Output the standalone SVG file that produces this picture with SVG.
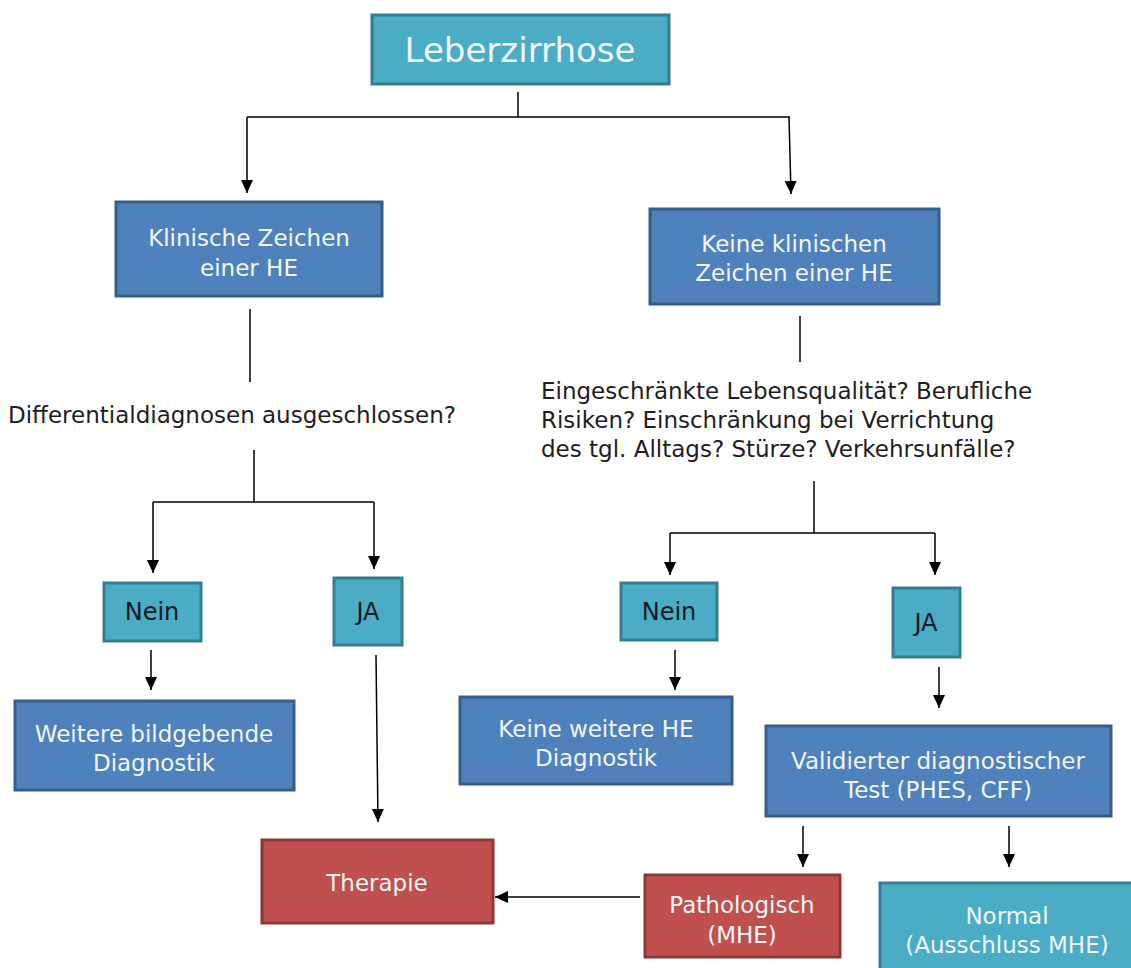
<svg xmlns="http://www.w3.org/2000/svg" width="1131" height="968" viewBox="0 0 1131 968">
<defs>
<style>
.teal{fill:#4bacc6;stroke:#357d91;stroke-width:3}
.blue{fill:#4f81bd;stroke:#385d8a;stroke-width:3}
.red{fill:#c0504d;stroke:#8c3836;stroke-width:3}
.lt{fill:#f2f6fa;font-family:"DejaVu Sans",sans-serif;font-size:23px;text-anchor:middle}
.dk{fill:#141a24;font-family:"DejaVu Sans",sans-serif;font-size:24px;text-anchor:middle}
.q{fill:#1e1e1e;font-family:"DejaVu Sans",sans-serif;font-size:23px}
.c{fill:none;stroke:#000;stroke-width:1.5}
</style>
<marker id="ah" markerUnits="userSpaceOnUse" markerWidth="14" markerHeight="14" viewBox="0 0 14 14" refX="13" refY="7" orient="auto">
<path d="M0,1 L13,7 L0,13 Z" fill="#000"/>
</marker>
</defs>
<rect width="1131" height="968" fill="#ffffff"/>

<g id="connectors">
<path class="c" d="M518,92 V117"/>
<path class="c" d="M247,117 H790"/>
<path class="c" d="M247,117 V193" marker-end="url(#ah)"/>
<path class="c" d="M789,117 L791,194" marker-end="url(#ah)"/>
<path class="c" d="M250,309 V382"/>
<path class="c" d="M254,450 V502"/>
<path class="c" d="M153,502 H374"/>
<path class="c" d="M153,502 V573" marker-end="url(#ah)"/>
<path class="c" d="M374,502 V569" marker-end="url(#ah)"/>
<path class="c" d="M151,650 V690" marker-end="url(#ah)"/>
<path class="c" d="M376,655 L378,822" marker-end="url(#ah)"/>
<path class="c" d="M800,316 V362"/>
<path class="c" d="M814,481 V533"/>
<path class="c" d="M670,533 H935"/>
<path class="c" d="M670,533 V575" marker-end="url(#ah)"/>
<path class="c" d="M935,533 V575" marker-end="url(#ah)"/>
<path class="c" d="M675,650 V690" marker-end="url(#ah)"/>
<path class="c" d="M939,667 V708" marker-end="url(#ah)"/>
<path class="c" d="M803,826 V867" marker-end="url(#ah)"/>
<path class="c" d="M1009,826 V867" marker-end="url(#ah)"/>
<path class="c" d="M640,897 H495" marker-end="url(#ah)"/>
</g>

<g id="n-leberzirrhose">
<rect class="teal" x="372" y="15" width="297" height="69"/>
<text class="lt" x="520" y="62" style="font-size:34px">Leberzirrhose</text>
</g>
<g id="n-klinisch">
<rect class="blue" x="116" y="202" width="266" height="94"/>
<text class="lt" x="249" y="246">Klinische Zeichen</text>
<text class="lt" x="249" y="276">einer HE</text>
</g>
<g id="n-keine-klinisch">
<rect class="blue" x="650" y="209" width="289" height="95"/>
<text class="lt" x="794" y="252">Keine klinischen</text>
<text class="lt" x="794" y="281">Zeichen einer HE</text>
</g>
<g id="n-differential">
<text class="q" x="8" y="423">Differentialdiagnosen ausgeschlossen?</text>
</g>
<g id="n-fragen">
<text class="q" x="541" y="399">Eingeschränkte Lebensqualität? Berufliche</text>
<text class="q" x="541" y="428">Risiken? Einschränkung bei Verrichtung</text>
<text class="q" x="541" y="457">des tgl. Alltags? Stürze? Verkehrsunfälle?</text>
</g>
<g id="n-nein-links">
<rect class="teal" x="104" y="583" width="97" height="58"/>
<text class="dk" x="152" y="620">Nein</text>
</g>
<g id="n-ja-links">
<rect class="teal" x="334" y="578" width="68" height="67"/>
<text class="dk" x="368" y="620">JA</text>
</g>
<g id="n-weitere">
<rect class="blue" x="15" y="701" width="279" height="89"/>
<text class="lt" x="154" y="742">Weitere bildgebende</text>
<text class="lt" x="154" y="771">Diagnostik</text>
</g>
<g id="n-therapie">
<rect class="red" x="262" y="840" width="231" height="83"/>
<text class="lt" x="377" y="891">Therapie</text>
</g>
<g id="n-nein-rechts">
<rect class="teal" x="621" y="583" width="96" height="57"/>
<text class="dk" x="669" y="620">Nein</text>
</g>
<g id="n-ja-rechts">
<rect class="teal" x="893" y="588" width="67" height="69"/>
<text class="dk" x="926" y="631">JA</text>
</g>
<g id="n-keine-weitere">
<rect class="blue" x="460" y="697" width="272" height="87"/>
<text class="lt" x="596" y="737">Keine weitere HE</text>
<text class="lt" x="596" y="766">Diagnostik</text>
</g>
<g id="n-validiert">
<rect class="blue" x="766" y="726" width="345" height="90"/>
<text class="lt" x="938" y="769">Validierter diagnostischer</text>
<text class="lt" x="938" y="798">Test (PHES, CFF)</text>
</g>
<g id="n-pathologisch">
<rect class="red" x="645" y="875" width="195" height="82"/>
<text class="lt" x="742" y="913">Pathologisch</text>
<text class="lt" x="742" y="943">(MHE)</text>
</g>
<g id="n-normal">
<rect class="teal" x="880" y="883" width="260" height="95"/>
<text class="lt" x="1007" y="924">Normal</text>
<text class="lt" x="1007" y="953">(Ausschluss MHE)</text>
</g>
</svg>
